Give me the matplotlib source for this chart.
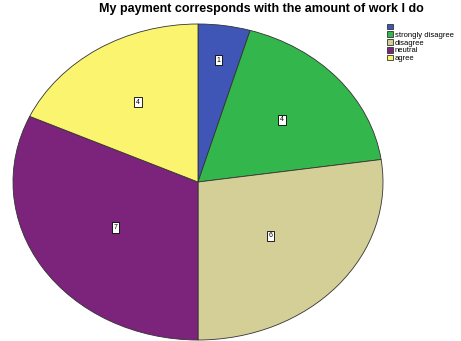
import matplotlib.pyplot as plt
import numpy as np

plt.rcParams['font.family'] = ['Liberation Sans', 'DejaVu Sans']

categories = ['', 'strongly disagree', 'disagree', 'neutral', 'agree']
counts = [1, 4, 6, 7, 4]
colors = ['#3f56b6', '#33b64b', '#d4cf96', '#7c237b', '#fbf46f']
# distance of each count label from the centre (fraction of radius)
label_r = [0.78, 0.6, 0.52, 0.53, 0.6]

W, H = 461, 341
fig = plt.figure(figsize=(W / 100, H / 100), dpi=100)
fig.patch.set_facecolor('white')

ax = fig.add_axes([13 / W, 1 / H, 370 / W, 316 / H])
wedges, _ = ax.pie(counts, colors=colors, startangle=90, counterclock=False,
                   wedgeprops={'edgecolor': '#333333', 'linewidth': 0.6})
ax.set_aspect('auto')
ax.set_xlim(-1, 1)
ax.set_ylim(-1, 1)
ax.axis('off')

for w, n, r in zip(wedges, counts, label_r):
    mid = np.deg2rad((w.theta1 + w.theta2) / 2)
    ax.text(r * np.cos(mid), r * np.sin(mid), str(n), ha='center', va='center',
            fontsize=5, color='black',
            bbox={'boxstyle': 'square,pad=0.25', 'facecolor': 'white',
                  'edgecolor': 'black', 'linewidth': 0.6})

fig.text(261 / W, 1 - 9 / H, 'My payment corresponds with the amount of work I do',
         ha='center', va='center', fontsize=9, fontweight='bold')

leg = fig.legend(wedges, categories, loc='upper left',
                 bbox_to_anchor=(382 / W, 1 - 19 / H), frameon=False,
                 fontsize=5.5, handlelength=0.8, handleheight=0.8,
                 handletextpad=0.3, labelspacing=0.02, borderpad=0.1)

fig.savefig('out.png', dpi=100)
